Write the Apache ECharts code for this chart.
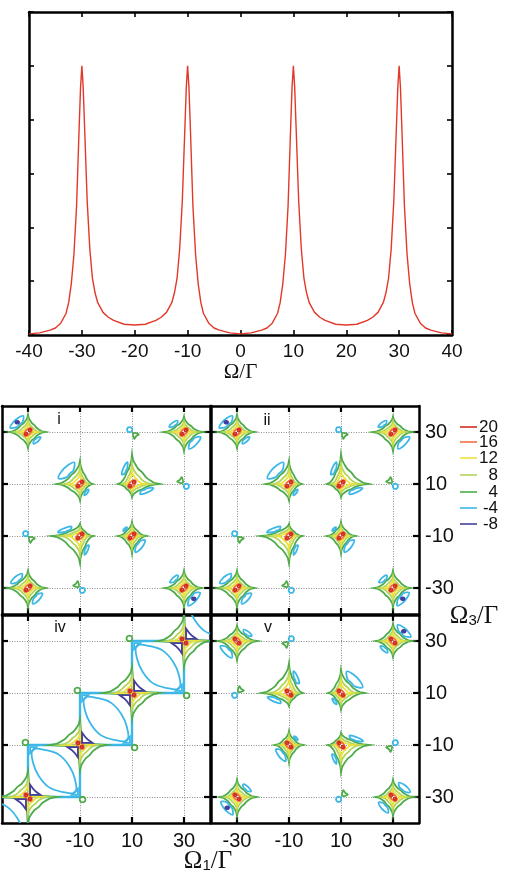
<!DOCTYPE html>
<html><head><meta charset="utf-8">
<script src="https://cdn.jsdelivr.net/npm/echarts@6/dist/echarts.min.js"></script>
<style>html,body{margin:0;padding:0;background:#fff}#c{width:507px;height:871px}</style>
</head><body><div id="c"></div>
<script>
// ---------- top panel data ----------
const omega = [-40,-38,-36,-35,-34,-33,-32.5,-32,-31.5,-31,-30.5,-30.25,-30,-29.75,-29.5,-29,-28.5,-28,-27.5,-27,-26,-25,-24,-22,-20,-18,-16,-15,-14,-13,-12.5,-12,-11.5,-11,-10.5,-10.25,-10,-9.75,-9.5,-9,-8.5,-8,-7.5,-7,-6,-5,-4,-2,0,2,4,5,6,7,7.5,8,8.5,9,9.5,9.75,10,10.25,10.5,11,11.5,12,12.5,13,14,15,16,18,20,22,24,25,26,27,27.5,28,28.5,29,29.5,29.75,30,30.25,30.5,31,31.5,32,32.5,33,34,35,36,38,40];
const signal = [0.02,0.04,0.09,0.13,0.22,0.4,0.6,0.95,1.5,2.4,3.9,4.6,5.0,4.6,3.9,2.5,1.6,1.05,0.78,0.6,0.42,0.33,0.27,0.2,0.185,0.2,0.27,0.33,0.42,0.6,0.78,1.05,1.6,2.5,3.9,4.6,5.0,4.6,3.9,2.4,1.5,0.95,0.6,0.4,0.22,0.13,0.09,0.04,0.02,0.04,0.09,0.13,0.22,0.4,0.6,0.95,1.5,2.4,3.9,4.6,5.0,4.6,3.9,2.5,1.6,1.05,0.78,0.6,0.42,0.33,0.27,0.2,0.185,0.2,0.27,0.33,0.42,0.6,0.78,1.05,1.6,2.5,3.9,4.6,5.0,4.6,3.9,2.4,1.5,0.95,0.6,0.4,0.22,0.13,0.09,0.04,0.02];
const topTicks = [-40,-30,-20,-10,0,10,20,30,40];

// ---------- contour panels data ----------
const mapTicks = [-30,-10,10,30];
const levels = [20,16,12,8,4,-4,-8];
// big peaks: [x, y, armRight, armUp, armLeft, armDown]
const peaksI = [[-30,30,6.7,6.7,7.4,6.2],[30,30,7.3,6,7.8,7.4],[-10,10,5,9,9,6.4],[10,10,10.6,11.5,5.4,5.1],
  [-10,-10,5.1,4.7,10.9,10.6],[10,-10,5.5,5.4,5.4,6.8],[-30,-30,6.7,6.7,8,7.4],[30,-30,6.7,6.7,7.4,7.4]];
const peaksV = [[30,30,7.4,6.7,6.7,6.2],[-30,30,7.8,6,7.3,7.4],[10,10,9,9,5,6.4],[-10,10,5.4,11.5,10.6,5.1],
  [10,-10,10.9,4.7,5.1,10.6],[-10,-10,5.4,5.4,5.5,6.8],[30,-30,8,6.7,6.7,7.4],[-30,-30,7.4,6.7,6.7,7.4]];
const peaksIV = [[-30,-30,11,10,11,10],[-10,-10,10,10,11.5,10],[10,10,10.6,10,11,10],[30,30,10,10,10,10]];
// negative lobes: [x, y, qx, qy, relative size, has -8 core]
const lobesI = [[-30,30,-1,1,1.0,1],[-30,30,1,-1,0.6,0],[30,30,-1,1,0.6,0],[30,30,1,-1,0.9,0],
  [-10,10,-1,1,1.0,0],[-10,10,1,-1,0.5,0],[10,10,-1,1,0.6,0],[10,10,1,-1,0.7,0],
  [-10,-10,-1,1,0.7,0],[-10,-10,1,-1,0.5,0],[10,-10,-1,1,0.4,0],[10,-10,1,-1,1.0,0],
  [-30,-30,-1,1,0.8,0],[-30,-30,1,-1,0.8,0],[30,-30,-1,1,0.6,0],[30,-30,1,-1,1.0,1]];
const lobesV = [[30,30,1,1,1.0,1],[30,30,-1,-1,0.6,0],[-30,30,1,1,0.6,0],[-30,30,-1,-1,0.9,0],
  [10,10,1,1,1.0,0],[10,10,-1,-1,0.5,0],[-10,10,1,1,0.6,0],[-10,10,-1,-1,0.7,0],
  [10,-10,1,1,0.7,0],[10,-10,-1,-1,0.5,0],[-10,-10,1,1,0.4,0],[-10,-10,-1,-1,1.0,0],
  [30,-30,1,1,0.8,0],[30,-30,-1,-1,0.8,0],[-30,-30,1,1,0.6,0],[-30,-30,-1,-1,1.0,1]];
// weak spots: [x, y, qx, qy] (negative blob toward q, positive sliver opposite)
const weakI = [[10,30,-1,1],[30,10,1,-1],[-30,-10,-1,1],[-10,-30,1,-1]];
const weakV = [[-10,30,1,1],[-30,10,-1,-1],[30,-10,1,1],[10,-30,-1,-1]];
// panel iv negative squares (lower-left corners) and off-diagonal weak spots [x,y,qx,qy inside]
const squaresIV = [[-50,-50],[-30,-30],[-10,-10],[10,10],[30,30]];
const weakIV = [[-30,-10,1,-1],[-10,10,1,-1],[10,30,1,-1],[-10,-30,-1,1],[10,-10,-1,1],[30,10,-1,1]];

// ---------- shape templates (unit outlines) ----------
const T_STAR = [[1,0],[0.8,0.04],[0.64,0.13],[0.5,0.23],[0.38,0.38],[0.23,0.5],[0.13,0.64],[0.04,0.8],[0,1]];
const T_HUG = [[1,0],[0.6,0.03],[0.25,0.04],[0.05,0.05],[0.04,0.25],[0.03,0.6],[0,1]];
const T_CIRCLE = [[1,0],[0.87,0.5],[0.5,0.87],[0,1],[-0.5,0.87],[-0.87,0.5],[-1,0],[-0.87,-0.5],[-0.5,-0.87],[0,-1],[0.5,-0.87],[0.87,-0.5]];
const T_LOBE = [[0.44,0.44],[0.58,0.28],[0.92,0.24],[0.8,0.52],[0.52,0.8],[0.24,0.92],[0.28,0.58]];
const T_SLIVER = [[0.4,0.4],[2.6,0.9],[1.6,1.6],[0.9,2.6]];
const T_TRI = [[0.8,0.8],[4.8,0.8],[3.1,2.0],[2.0,3.1],[0.8,4.8]];
const T_SMALLTRI = [[0.8,0.8],[3.2,0.8],[0.8,3.2]];
const T_LENS = [[-0.82,0.82],[-0.3,0.8],[0.2,0.62],[0.58,0.2],[0.8,-0.3],[0.82,-0.82],[0.3,-0.8],[-0.2,-0.62],[-0.58,-0.2],[-0.8,0.3]];

const COLORS = {'20':'#d22b1f','16':'#f07040','12':'#ece23c','8':'#b2d55a','4':'#4fab4a','-4':'#3cb7e8','-8':'#443f9c'};

function starPoly(cx,cy,R,U,L,D,f,types){
  const pts=[];
  const quads=[[1,1,R,U,false],[-1,1,L,U,true],[-1,-1,L,D,false],[1,-1,R,D,true]];
  quads.forEach((q,i)=>{
    const T = types[i]==='h'?T_HUG:T_STAR;
    const seq = q[4]?T.slice().reverse():T;
    seq.forEach(p=>pts.push([cx+q[0]*p[0]*q[2]*f, cy+q[1]*p[1]*q[3]*f]));
  });
  return pts;
}
function ellipsePoly(cx,cy,a,b,diag){
  const c=Math.SQRT1_2;
  return T_CIRCLE.map(([u,v])=>{
    const x=a*u,y=b*v;
    if(!diag) return [cx+x,cy+y];
    return [cx+c*(x-diag*y), cy+c*(diag*x+y)];
  });
}
function mapQuad(T,cx,cy,qx,qy,sx,sy){
  return T.map(p=>[cx+qx*p[0]*sx, cy+qy*p[1]*sy]);
}

function peakShapes(list, diag, types){
  const out=[];
  list.forEach(p=>{
    const [x,y,R,U,L,D]=p;
    out.push({pts:starPoly(x,y,R,U,L,D,1,types),c:COLORS['4']});
    out.push({pts:starPoly(x,y,R,U,L,D,0.68,types),c:COLORS['8']});
    out.push({pts:starPoly(x,y,R,U,L,D,0.44,types),c:COLORS['12']});
    out.push({pts:ellipsePoly(x,y,1.9,0.95,diag),c:COLORS['16'],sm:0.5});
    const o=0.75;
    out.push({pts:ellipsePoly(x+o*(diag>0?1:-1),y+o,0.55,0.45,diag),c:COLORS['20'],sm:0.5});
    out.push({pts:ellipsePoly(x-o*(diag>0?1:-1),y-o,0.55,0.45,diag),c:COLORS['20'],sm:0.5});
  });
  return out;
}
function lobeShapes(lobes, peaks){
  const out=[];
  lobes.forEach(l=>{
    const [x,y,qx,qy,s,deep]=l;
    const p=peaks.find(k=>k[0]===x&&k[1]===y);
    const ax = qx>0?p[2]:p[4], ay = qy>0?p[3]:p[5];
    const c0=T_LOBE[0];
    const pts=T_LOBE.map(t=>[x+qx*ax*(c0[0]+s*(t[0]-c0[0])), y+qy*ay*(c0[1]+s*(t[1]-c0[1]))]);
    out.push({pts,c:COLORS['-4'],sm:0.3});
    if(deep){
      out.push({pts:ellipsePoly(x+qx*ax*(c0[0]+s*0.12), y+qy*ay*(c0[1]+s*0.12),0.7,0.55,0),c:COLORS['-8'],sm:0.5,fill:true});
    }
  });
  return out;
}
function weakShapes(list){
  const out=[];
  list.forEach(w=>{
    const [x,y,qx,qy]=w;
    out.push({pts:ellipsePoly(x+qx*0.9,y+qy*0.9,1.0,1.0,0),c:COLORS['-4'],sm:0.5});
    out.push({pts:mapQuad(T_SLIVER,x,y,-qx,-qy,1,1),c:COLORS['4'],sm:0.3});
  });
  return out;
}
const TYPES_NORMAL=['s','s','s','s'];
const TYPES_IV=['h','s','h','s'];
const shapesI = [...peakShapes(peaksI,1,TYPES_NORMAL),...lobeShapes(lobesI,peaksI),...weakShapes(weakI)];
const shapesII = [...peakShapes(peaksI,1,TYPES_NORMAL),...lobeShapes(lobesI,peaksI),...weakShapes(weakI)];
const shapesV = [...peakShapes(peaksV,-1,TYPES_NORMAL),...lobeShapes(lobesV,peaksV),...weakShapes(weakV)];
const shapesIV = [];
squaresIV.forEach(([x0,y0])=>{
  shapesIV.push({pts:[[x0,y0],[x0+20,y0],[x0+20,y0+20],[x0,y0+20]],c:COLORS['-4'],w:2.4});
  shapesIV.push({pts:T_LENS.map(([u,v])=>[x0+10+10*u,y0+10+10*v]),c:COLORS['-4'],sm:0.4});
});
shapesIV.push(...peakShapes(peaksIV,-1,TYPES_IV));
peaksIV.forEach(p=>{
  shapesIV.push({pts:mapQuad(T_TRI,p[0],p[1],1,1,1,1),c:COLORS['-8']});
  shapesIV.push({pts:mapQuad(T_TRI,p[0],p[1],-1,-1,1,1),c:COLORS['-8']});
});
weakIV.forEach(([x,y,qx,qy])=>{
  shapesIV.push({pts:mapQuad(T_SMALLTRI,x,y,qx,qy,1,1),c:COLORS['-4']});
  shapesIV.push({pts:ellipsePoly(x-qx*1.0,y-qy*1.0,1.1,1.1,0),c:COLORS['4'],sm:0.5});
});

// ---------- layout ----------
const panels = [
  {left:2,top:406,shapes:shapesI,bottom:false,right:false},
  {left:211,top:406,shapes:shapesII,bottom:false,right:true},
  {left:2,top:615,shapes:shapesIV,bottom:true,right:false},
  {left:211,top:615,shapes:shapesV,bottom:true,right:true}
];
const FONT='Liberation Sans';
const grids=[{left:29,top:12,width:423,height:323}];
const xAxes=[], yAxes=[], series=[];
const frame={show:true,onZero:false,lineStyle:{color:'#000',width:2.5}};
const topTick={show:true,inside:true,length:5,lineStyle:{color:'#000',width:1.6}};
xAxes.push({gridIndex:0,type:'value',position:'bottom',min:-40,max:40,interval:10,axisLine:frame,axisTick:topTick,splitLine:{show:false},
  axisLabel:{fontSize:19,color:'#111',fontFamily:FONT,margin:7,customValues:topTicks},
  name:'Ω/Γ',nameLocation:'middle',nameGap:26,nameTextStyle:{fontSize:21,color:'#111',fontFamily:'Liberation Serif'}});
xAxes.push({gridIndex:0,type:'value',position:'top',min:-40,max:40,interval:10,axisLine:frame,axisTick:topTick,splitLine:{show:false},axisLabel:{show:false}});
yAxes.push({gridIndex:0,type:'value',position:'left',min:0,max:6,interval:1,axisLine:frame,axisTick:topTick,splitLine:{show:false},axisLabel:{show:false}});
yAxes.push({gridIndex:0,type:'value',position:'right',min:0,max:6,interval:1,axisLine:frame,axisTick:topTick,splitLine:{show:false},axisLabel:{show:false}});
series.push({type:'line',xAxisIndex:0,yAxisIndex:0,data:omega.map((x,i)=>[x,signal[i]]),showSymbol:false,symbol:'none',
  lineStyle:{color:'#e2382a',width:1.4},silent:true});

panels.forEach((p,k)=>{
  const g=k+1;
  grids.push({left:p.left,top:p.top,width:208,height:208});
  const tick={show:true,inside:true,length:6,lineStyle:{color:'#000',width:2.2},customValues:mapTicks};
  const split={show:true,lineStyle:{color:'#8c8c8c',width:1,type:[1,1.5]}};
  const lab=(show)=>({show,fontSize:20,color:'#111',fontFamily:FONT,customValues:mapTicks,margin:8});
  xAxes.push({gridIndex:g,type:'value',position:'bottom',min:-40,max:40,axisLine:frame,axisTick:tick,splitLine:split,axisLabel:lab(p.bottom)});
  xAxes.push({gridIndex:g,type:'value',position:'top',min:-40,max:40,axisLine:frame,axisTick:tick,splitLine:{show:false},axisLabel:{show:false}});
  yAxes.push({gridIndex:g,type:'value',position:'left',min:-40,max:40,axisLine:frame,axisTick:tick,splitLine:split,axisLabel:{show:false}});
  yAxes.push({gridIndex:g,type:'value',position:'right',min:-40,max:40,axisLine:frame,axisTick:tick,splitLine:{show:false},
    axisLabel:Object.assign(lab(p.right),{margin:6})});
  const shapes=p.shapes;
  series.push({type:'custom',xAxisIndex:2*g,yAxisIndex:2*g,clip:true,silent:true,z:3,
    data:shapes.map((s,i)=>[s.pts[0][0],s.pts[0][1],i]),
    encode:{x:0,y:1},
    renderItem:(params,api)=>{
      const s=shapes[params.dataIndex];
      const pts=s.pts.map(q=>api.coord(q));
      return {type:'polygon',shape:{points:pts,smooth:s.sm||0},
        style:{fill:s.fill?s.c:'none',stroke:s.c,lineWidth:s.w||1.8}};
    }});
});

// ---------- texts / legend ----------
const graphic=[];
[['i',59,420],['ii',267,421],['iv',60,628],['v',268,628]].forEach(([t,x,y])=>{
  graphic.push({type:'text',x,y,style:{text:t,fontSize:16,fontFamily:FONT,fill:'#111',align:'center',verticalAlign:'middle'}});
});
const legendY=[427,442,458,475,492,508,524];
levels.forEach((lv,i)=>{
  graphic.push({type:'line',shape:{x1:460,y1:legendY[i],x2:477,y2:legendY[i]},style:{stroke:COLORS[String(lv)],lineWidth:1.6}});
  graphic.push({type:'text',x:498,y:legendY[i],style:{text:String(lv),fontSize:17,fontFamily:FONT,fill:'#111',align:'right',verticalAlign:'middle'}});
});
graphic.push({type:'text',x:474,y:616,style:{text:'{a|Ω}{b|3}{a|/Γ}',align:'center',verticalAlign:'middle',
  rich:{a:{fontSize:25,fontFamily:'Liberation Serif',fill:'#111'},b:{fontSize:15,fontFamily:'Liberation Sans',fill:'#111',verticalAlign:'bottom'}}}});
graphic.push({type:'text',x:208,y:861,style:{text:'{a|Ω}{b|1}{a|/Γ}',align:'center',verticalAlign:'middle',
  rich:{a:{fontSize:25,fontFamily:'Liberation Serif',fill:'#111'},b:{fontSize:15,fontFamily:'Liberation Sans',fill:'#111',verticalAlign:'bottom'}}}});

const chart=echarts.init(document.getElementById('c'),null,{renderer:'canvas'});
chart.setOption({animation:false,backgroundColor:'#fff',grid:grids,xAxis:xAxes,yAxis:yAxes,series,graphic});
</script></body></html>
